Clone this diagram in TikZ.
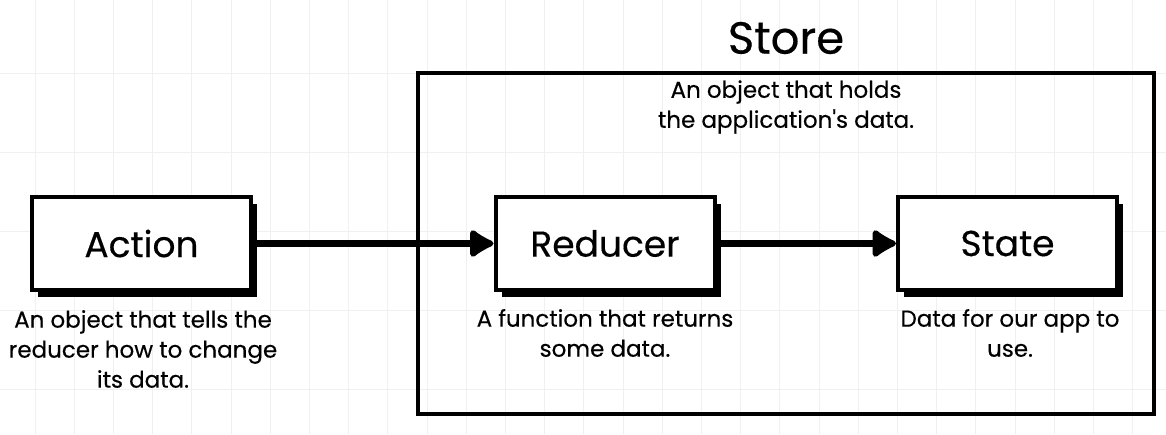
\documentclass[tikz,border=0pt]{standalone}
\usepackage{fontspec}
\setmainfont{Poppins}[FakeBold=0.35, Ligatures=TeXOff]
\usetikzlibrary{arrows.meta,shadows}
\tikzset{
  block/.style={draw, line width=4pt, fill=white, minimum width=219pt, minimum height=93pt,
    inner sep=0pt, font=\fontsize{36}{40}\selectfont,
    drop shadow={shadow xshift=6pt, shadow yshift=-7pt, fill=black, opacity=1}},
  note/.style={align=center, inner sep=0pt, font=\fontsize{23}{30}\selectfont},
  flow/.style={line width=7pt, -{Latex[round, length=28pt, width=34pt]}}
}
\begin{document}
\begin{tikzpicture}[x=1pt, y=-1pt]
    \useasboundingbox (0,0) rectangle (1166,434);
    \fill[white] (0,0) rectangle (1166,434);

    % Background grid
    \foreach \gx in {35,74.2,...,1166}
        \draw[black!6, line width=1pt] (\gx,0) -- (\gx,434);
    \foreach \gy in {73,152,...,434}
        \draw[black!6, line width=1pt] (0,\gy) -- (1166,\gy);

    % The store around reducer and state
    \node[draw, line width=3.5pt, minimum width=736pt, minimum height=341pt] (storebox) at (786,243.5) {};
    \node[font=\fontsize{45}{50}\selectfont] (store) at (786,38) {Store};
    \node[note] (storenote) at (786,107) {An object that holds\\the application's data.};

    % Blocks
    \node[block] (action) at (141.5,243.5) {Action};
    \node[block] (reducer) at (605,243.5) {Reducer};
    \node[block] (state) at (1007.5,243.5) {State};

    \node[note] (actionnote) at (143,349) {An object that tells the\\reducer how to change\\its data.};
    \node[note] (reducernote) at (605,333) {A function that returns\\some data.};
    \node[note] (statenote) at (1010,333) {Data for our app to\\use.};

    % Flow of data
    \draw[flow] (action) -- (reducer);
    \draw[flow] (reducer) -- (state);
\end{tikzpicture}
\end{document}
